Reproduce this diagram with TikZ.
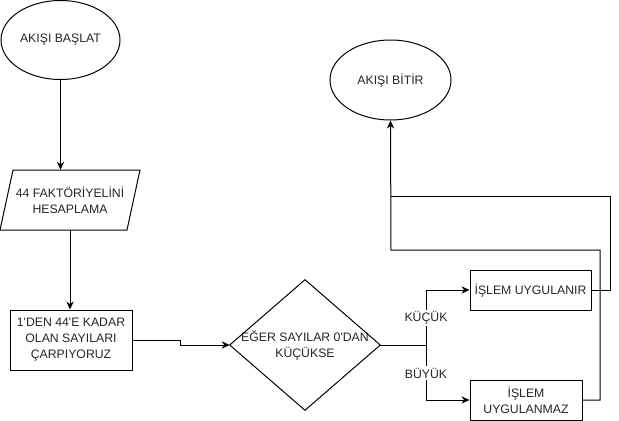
\documentclass[tikz,border=0pt]{standalone}
\usepackage{fontspec}
\setmainfont{Liberation Sans}
\usetikzlibrary{shapes.geometric,arrows.meta}
\begin{document}
\begin{tikzpicture}[x=0.75pt,y=-0.75pt,
  every node/.style={font=\fontsize{9.2}{12}\selectfont, text=black!85, align=center, inner sep=0pt},
  ln/.style={line width=0.75pt, black},
  arr/.style={ln, -{Stealth[length=6pt,width=5.5pt]}},
  ell/.style={ellipse, draw, line width=0.75pt},
  boxx/.style={rectangle, draw, line width=0.75pt},
  ghost/.style={rectangle},
  lbl/.style={fill=white, inner sep=1.5pt}]
\useasboundingbox (0,0) rectangle (619,421);

\node[ell, minimum width=89.25pt, minimum height=59.25pt] (start) at (60.5,40) {AKIŞI BAŞLAT};
\node[ell, minimum width=90.75pt, minimum height=60pt] (end) at (390.5,80) {AKIŞI BİTİR};

\node[ghost, minimum width=105pt, minimum height=45pt] (par) at (70,200) {44 FAKTÖRİYELİNİ\\HESAPLAMA};
\draw[ln] (0,230) -- (127,230) -- (140,170) -- (13,170) -- cycle;

\node[boxx, minimum width=91.5pt, minimum height=45pt] (rect) at (71,340) {1\textquotesingle DEN 44\textquotesingle E KADAR\\OLAN SAYILARI\\ÇARPIYORUZ};

\node[ghost, minimum width=112.5pt, minimum height=97.5pt] (dia) at (305,345) {EĞER SAYILAR 0\textquotesingle DAN\\KÜÇÜKSE};
\draw[ln] (dia.north) -- (dia.east) -- (dia.south) -- (dia.west) -- cycle;

\node[boxx, minimum width=90.75pt, minimum height=30pt] (box1) at (530.5,290) {İŞLEM UYGULANIR};
\node[boxx, minimum width=84pt, minimum height=30pt] (box2) at (526,400) {İŞLEM\\UYGULANMAZ};

\coordinate (split) at (426,345);
\coordinate (jog) at (180,340);
\coordinate (c1) at (610,196);
\coordinate (c4) at (391,196);
\coordinate (c2) at (600,250);
\coordinate (c3) at (391,250);

\draw[arr] (start.south) -- (start.south |- par.north);
\draw[arr] (par.south) -- (par.south |- rect.north);
\draw[arr] (rect.east) -- (jog) -- (jog |- dia.west) -- (dia.west);
\draw[arr] (dia.east) -- (split) |- (box1.west);
\draw[arr] (split) |- (box2.west);
\node[lbl] (kucuk) at (426,318) {KÜÇÜK};
\node[lbl] (buyuk) at (426,373) {BÜYÜK};
\draw[ln] (box1.east) -| (c1) -- (c4);
\draw[arr] (box2.east) -| (c2) -- (c3) -- (end.south);
\end{tikzpicture}
\end{document}
